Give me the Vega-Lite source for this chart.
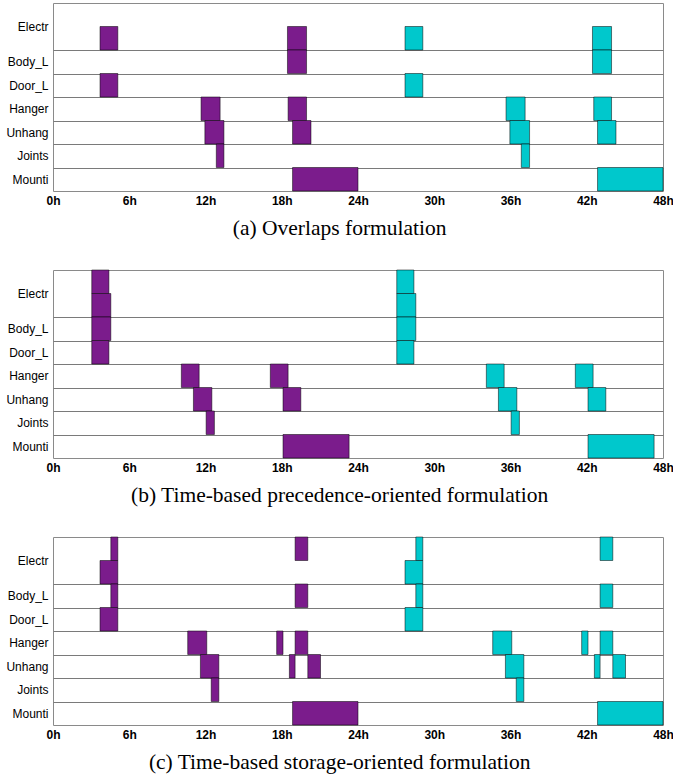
{
  "$schema": "https://vega.github.io/schema/vega-lite/v6.json",
  "padding": {"left": 5, "top": 2, "right": 0, "bottom": 5},
  "spacing": 29,
  "datasets": {
    "a": [
      {"row": 1, "start": 3.7, "end": 5.1, "job": "1"},
      {"row": 1, "start": 18.45, "end": 19.95, "job": "1"},
      {"row": 1, "start": 27.7, "end": 29.1, "job": "2"},
      {"row": 1, "start": 42.45, "end": 43.95, "job": "2"},
      {"row": 2, "start": 18.45, "end": 19.95, "job": "1"},
      {"row": 2, "start": 42.45, "end": 43.95, "job": "2"},
      {"row": 3, "start": 3.7, "end": 5.1, "job": "1"},
      {"row": 3, "start": 27.7, "end": 29.1, "job": "2"},
      {"row": 4, "start": 11.65, "end": 13.15, "job": "1"},
      {"row": 4, "start": 18.5, "end": 19.95, "job": "1"},
      {"row": 4, "start": 35.65, "end": 37.15, "job": "2"},
      {"row": 4, "start": 42.55, "end": 43.95, "job": "2"},
      {"row": 5, "start": 11.95, "end": 13.45, "job": "1"},
      {"row": 5, "start": 18.85, "end": 20.3, "job": "1"},
      {"row": 5, "start": 35.95, "end": 37.5, "job": "2"},
      {"row": 5, "start": 42.85, "end": 44.3, "job": "2"},
      {"row": 6, "start": 12.85, "end": 13.45, "job": "1"},
      {"row": 6, "start": 36.85, "end": 37.5, "job": "2"},
      {"row": 7, "start": 18.85, "end": 24, "job": "1"},
      {"row": 7, "start": 42.85, "end": 48, "job": "2"}
    ],
    "b": [
      {"row": 0, "start": 3.05, "end": 4.4, "job": "1"},
      {"row": 0, "start": 27.05, "end": 28.4, "job": "2"},
      {"row": 1, "start": 3.05, "end": 4.55, "job": "1"},
      {"row": 1, "start": 27.05, "end": 28.55, "job": "2"},
      {"row": 2, "start": 3.05, "end": 4.55, "job": "1"},
      {"row": 2, "start": 27.05, "end": 28.55, "job": "2"},
      {"row": 3, "start": 3.05, "end": 4.4, "job": "1"},
      {"row": 3, "start": 27.05, "end": 28.4, "job": "2"},
      {"row": 4, "start": 10.1, "end": 11.5, "job": "1"},
      {"row": 4, "start": 17.1, "end": 18.5, "job": "1"},
      {"row": 4, "start": 34.1, "end": 35.5, "job": "2"},
      {"row": 4, "start": 41.1, "end": 42.5, "job": "2"},
      {"row": 5, "start": 11.05, "end": 12.5, "job": "1"},
      {"row": 5, "start": 18.1, "end": 19.5, "job": "1"},
      {"row": 5, "start": 35.05, "end": 36.5, "job": "2"},
      {"row": 5, "start": 42.1, "end": 43.5, "job": "2"},
      {"row": 6, "start": 12.05, "end": 12.7, "job": "1"},
      {"row": 6, "start": 36.05, "end": 36.7, "job": "2"},
      {"row": 7, "start": 18.1, "end": 23.3, "job": "1"},
      {"row": 7, "start": 42.1, "end": 47.3, "job": "2"}
    ],
    "c": [
      {"row": 0, "start": 4.55, "end": 5.1, "job": "1"},
      {"row": 0, "start": 19.05, "end": 20.05, "job": "1"},
      {"row": 0, "start": 28.55, "end": 29.1, "job": "2"},
      {"row": 0, "start": 43.05, "end": 44.05, "job": "2"},
      {"row": 1, "start": 3.7, "end": 5.1, "job": "1"},
      {"row": 1, "start": 27.7, "end": 29.1, "job": "2"},
      {"row": 2, "start": 4.55, "end": 5.1, "job": "1"},
      {"row": 2, "start": 19.05, "end": 20.05, "job": "1"},
      {"row": 2, "start": 28.55, "end": 29.1, "job": "2"},
      {"row": 2, "start": 43.05, "end": 44.05, "job": "2"},
      {"row": 3, "start": 3.7, "end": 5.1, "job": "1"},
      {"row": 3, "start": 27.7, "end": 29.1, "job": "2"},
      {"row": 4, "start": 10.6, "end": 12.1, "job": "1"},
      {"row": 4, "start": 17.6, "end": 18.1, "job": "1"},
      {"row": 4, "start": 19.05, "end": 20.05, "job": "1"},
      {"row": 4, "start": 34.6, "end": 36.1, "job": "2"},
      {"row": 4, "start": 41.6, "end": 42.1, "job": "2"},
      {"row": 4, "start": 43.05, "end": 44.05, "job": "2"},
      {"row": 5, "start": 11.6, "end": 13.05, "job": "1"},
      {"row": 5, "start": 18.6, "end": 19.05, "job": "1"},
      {"row": 5, "start": 20.05, "end": 21.05, "job": "1"},
      {"row": 5, "start": 35.6, "end": 37.05, "job": "2"},
      {"row": 5, "start": 42.6, "end": 43.05, "job": "2"},
      {"row": 5, "start": 44.05, "end": 45.05, "job": "2"},
      {"row": 6, "start": 12.45, "end": 13.05, "job": "1"},
      {"row": 6, "start": 36.45, "end": 37.05, "job": "2"},
      {"row": 7, "start": 18.85, "end": 24, "job": "1"},
      {"row": 7, "start": 42.85, "end": 48, "job": "2"}
    ]
  },
  "vconcat": [
    {
      "data": {"name": "a"},
      "width": 610, "height": 188,
      "title": {"text": "(a) Overlaps formulation", "orient": "bottom", "anchor": "middle", "frame": "bounds", "offset": 12},
      "transform": [{"calculate": "datum.row + 1", "as": "row2"}],
      "mark": {"type": "rect", "stroke": "#000000", "strokeOpacity": 0.5, "strokeWidth": 1},
      "encoding": {
        "x": {"field": "start", "type": "quantitative", "scale": {"domain": [0, 48], "nice": false, "zero": false},
              "axis": {"values": [0, 6, 12, 18, 24, 30, 36, 42, 48], "labelExpr": "datum.value + 'h'", "title": null, "grid": false, "labelFontWeight": "bold"}},
        "x2": {"field": "end"},
        "y": {"field": "row", "type": "quantitative", "scale": {"domain": [0, 8], "reverse": true, "nice": false, "zero": false},
              "axis": {"values": [1, 2, 2.5, 3, 3.5, 4, 4.5, 5, 5.5, 6, 6.5, 7, 7.5], "title": null,
                       "labelExpr": "datum.value == 1 ? 'Electr' : datum.value == 2.5 ? 'Body_L' : datum.value == 3.5 ? 'Door_L' : datum.value == 4.5 ? 'Hanger' : datum.value == 5.5 ? 'Unhang' : datum.value == 6.5 ? 'Joints' : datum.value == 7.5 ? 'Mounti' : ''",
                       "grid": true, "gridOpacity": {"condition": {"test": "datum.value > 1 && datum.value % 1 == 0", "value": 1}, "value": 0}}},
        "y2": {"field": "row2"},
        "color": {"field": "job", "type": "nominal", "scale": {"domain": ["1", "2"], "range": ["#7B1C8C", "#00C8CC"]}, "legend": null}
      }
    },
    {
      "data": {"name": "b"},
      "width": 610, "height": 188,
      "title": {"text": "(b) Time-based precedence-oriented formulation", "orient": "bottom", "anchor": "middle", "frame": "bounds", "offset": 12},
      "transform": [{"calculate": "datum.row + 1", "as": "row2"}],
      "mark": {"type": "rect", "stroke": "#000000", "strokeOpacity": 0.5, "strokeWidth": 1},
      "encoding": {
        "x": {"field": "start", "type": "quantitative", "scale": {"domain": [0, 48], "nice": false, "zero": false},
              "axis": {"values": [0, 6, 12, 18, 24, 30, 36, 42, 48], "labelExpr": "datum.value + 'h'", "title": null, "grid": false, "labelFontWeight": "bold"}},
        "x2": {"field": "end"},
        "y": {"field": "row", "type": "quantitative", "scale": {"domain": [0, 8], "reverse": true, "nice": false, "zero": false},
              "axis": {"values": [1, 2, 2.5, 3, 3.5, 4, 4.5, 5, 5.5, 6, 6.5, 7, 7.5], "title": null,
                       "labelExpr": "datum.value == 1 ? 'Electr' : datum.value == 2.5 ? 'Body_L' : datum.value == 3.5 ? 'Door_L' : datum.value == 4.5 ? 'Hanger' : datum.value == 5.5 ? 'Unhang' : datum.value == 6.5 ? 'Joints' : datum.value == 7.5 ? 'Mounti' : ''",
                       "grid": true, "gridOpacity": {"condition": {"test": "datum.value > 1 && datum.value % 1 == 0", "value": 1}, "value": 0}}},
        "y2": {"field": "row2"},
        "color": {"field": "job", "type": "nominal", "scale": {"domain": ["1", "2"], "range": ["#7B1C8C", "#00C8CC"]}, "legend": null}
      }
    },
    {
      "data": {"name": "c"},
      "width": 610, "height": 188,
      "title": {"text": "(c) Time-based storage-oriented formulation", "orient": "bottom", "anchor": "middle", "frame": "bounds", "offset": 12},
      "transform": [{"calculate": "datum.row + 1", "as": "row2"}],
      "mark": {"type": "rect", "stroke": "#000000", "strokeOpacity": 0.5, "strokeWidth": 1},
      "encoding": {
        "x": {"field": "start", "type": "quantitative", "scale": {"domain": [0, 48], "nice": false, "zero": false},
              "axis": {"values": [0, 6, 12, 18, 24, 30, 36, 42, 48], "labelExpr": "datum.value + 'h'", "title": null, "grid": false, "labelFontWeight": "bold"}},
        "x2": {"field": "end"},
        "y": {"field": "row", "type": "quantitative", "scale": {"domain": [0, 8], "reverse": true, "nice": false, "zero": false},
              "axis": {"values": [1, 2, 2.5, 3, 3.5, 4, 4.5, 5, 5.5, 6, 6.5, 7, 7.5], "title": null,
                       "labelExpr": "datum.value == 1 ? 'Electr' : datum.value == 2.5 ? 'Body_L' : datum.value == 3.5 ? 'Door_L' : datum.value == 4.5 ? 'Hanger' : datum.value == 5.5 ? 'Unhang' : datum.value == 6.5 ? 'Joints' : datum.value == 7.5 ? 'Mounti' : ''",
                       "grid": true, "gridOpacity": {"condition": {"test": "datum.value > 1 && datum.value % 1 == 0", "value": 1}, "value": 0}}},
        "y2": {"field": "row2"},
        "color": {"field": "job", "type": "nominal", "scale": {"domain": ["1", "2"], "range": ["#7B1C8C", "#00C8CC"]}, "legend": null}
      }
    }
  ],
  "config": {
    "background": "white",
    "view": {"stroke": "#8a8a8a", "strokeWidth": 1},
    "axis": {"domain": false, "ticks": false, "labelFont": "Liberation Sans", "labelFontSize": 12, "labelColor": "#000000", "gridColor": "#7a7a7a", "gridWidth": 1},
    "axisX": {"labelPadding": 4, "labelFlush": false, "labelOverlap": false},
    "axisY": {"labelPadding": 5, "labelOverlap": false},
    "title": {"font": "Liberation Serif", "fontSize": 21.5, "fontWeight": "normal", "color": "#000000"}
  }
}
